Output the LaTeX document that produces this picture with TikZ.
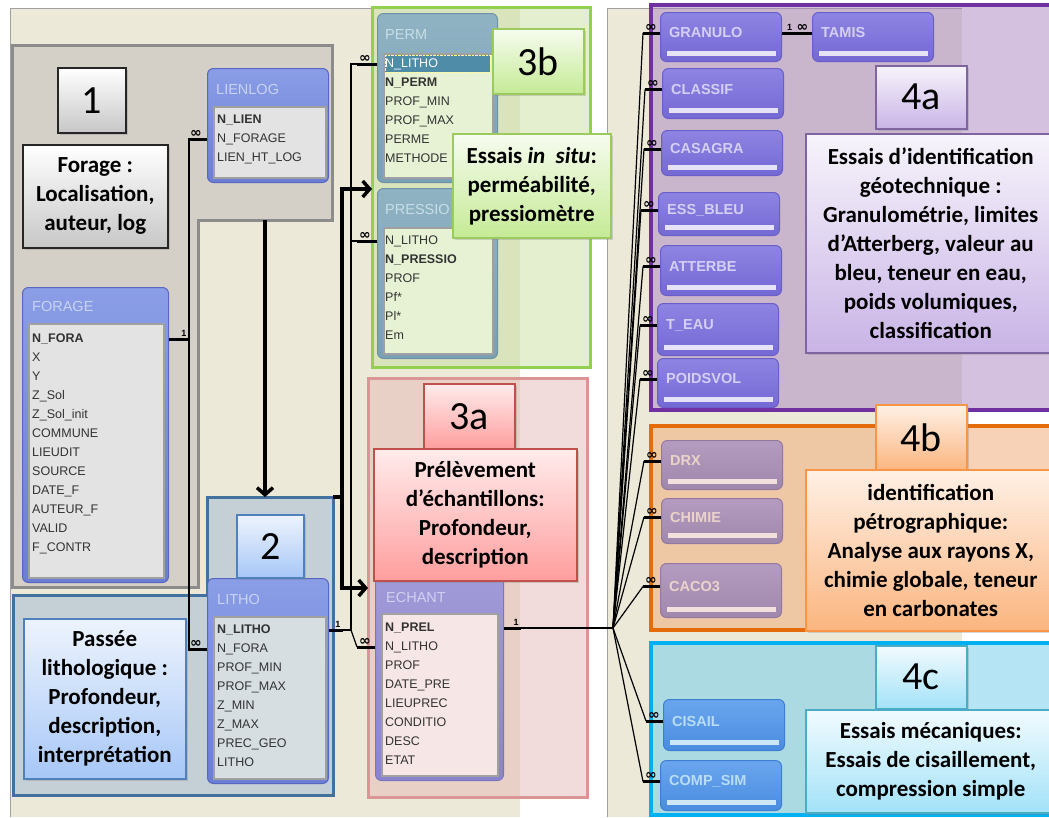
\documentclass[tikz,border=0pt]{standalone}
\usepackage{fontspec}
\setmainfont{Carlito}
\newfontfamily\accessfont{Liberation Sans}
\newfontfamily\symfont{DejaVu Sans}
\usetikzlibrary{arrows.meta, positioning, calc, shadows}

\definecolor{winbeige}{HTML}{ECE9D8}
\definecolor{winline}{HTML}{A0A0A0}
\definecolor{grpgray}{HTML}{D4D0C8}
\definecolor{grpgrayline}{HTML}{8C8C8C}
\definecolor{grpblue}{HTML}{C4D0D6}
\definecolor{grpblueline}{HTML}{41719C}
\definecolor{grpgreen}{HTML}{C9E1A1}
\definecolor{grpgreenline}{HTML}{92D050}
\definecolor{grppink}{HTML}{E6B9B8}
\definecolor{grppinkline}{HTML}{D99694}
\definecolor{grppurple}{HTML}{A985C1}
\definecolor{grppurpleline}{HTML}{7030A0}
\definecolor{grporange}{HTML}{F1A771}
\definecolor{grporangeline}{HTML}{E46C0A}
\definecolor{grpcyan}{HTML}{6DCDED}
\definecolor{grpcyanline}{HTML}{00B0F0}
\definecolor{fldtext}{HTML}{333333}
\definecolor{tealsel}{HTML}{4E8CA8}
% table frames
\definecolor{bluetop}{HTML}{8A9DE6}\definecolor{bluebot}{HTML}{6A7ED4}\definecolor{blueline}{HTML}{5868C0}\definecolor{bluehead}{HTML}{C9D3F3}
\definecolor{tealtop}{HTML}{8FB3C3}\definecolor{tealbot}{HTML}{7AA0B3}\definecolor{tealline}{HTML}{6F93A6}\definecolor{tealhead}{HTML}{C8DEE6}
\definecolor{mauvetop}{HTML}{A09AD8}\definecolor{mauvebot}{HTML}{8A84CC}\definecolor{mauveline}{HTML}{7C74C0}\definecolor{mauvehead}{HTML}{D4D0F0}
\definecolor{violettop}{HTML}{8E84E2}\definecolor{violetbot}{HTML}{7468D4}\definecolor{violetline}{HTML}{6A5EC8}\definecolor{violethead}{HTML}{D5CFF4}
\definecolor{rosetop}{HTML}{B49CC0}\definecolor{rosebot}{HTML}{A088AC}\definecolor{roseline}{HTML}{94789E}\definecolor{rosehead}{HTML}{EBD3CC}
\definecolor{azuretop}{HTML}{6AA6EE}\definecolor{azurebot}{HTML}{4A8CE0}\definecolor{azureline}{HTML}{3E7ED0}\definecolor{azurehead}{HTML}{B8DDF5}
% label boxes
\definecolor{annblue}{HTML}{4F81BD}\definecolor{annbluebot}{HTML}{A7C7F7}
\definecolor{anngreen}{HTML}{9BCB5F}\definecolor{anngreenbot}{HTML}{C5EA95}
\definecolor{annred}{HTML}{C0504D}\definecolor{annredbot}{HTML}{FF9E9E}
\definecolor{annpurple}{HTML}{8064A2}\definecolor{annpurplebot}{HTML}{C9B4E6}
\definecolor{annorange}{HTML}{F79646}\definecolor{annorangebot}{HTML}{FBB57F}
\definecolor{anncyan}{HTML}{4BACC6}\definecolor{anncyanbot}{HTML}{A3E2F8}

\begin{document}
\begin{tikzpicture}[x=1pt, y=-1pt,
  grp/.style={line width=3pt, fill opacity=0.5},
  tbl/.style={anchor=north west, rounded corners=6pt, inner sep=0pt, line width=1pt},
  minitbl/.style={tbl, minimum width=121pt,
    path picture={\fill[#1, sharp corners]
      ([xshift=6pt, yshift=6pt]path picture bounding box.south west) rectangle
      ([xshift=-6pt, yshift=11pt]path picture bounding box.south east);}},
  tblhead/.style={anchor=west, inner sep=0pt,
    font=\accessfont\fontsize{14.5}{14.5}\selectfont},
  minihead/.style={tblhead, font=\accessfont\bfseries\fontsize{14.5}{14.5}\selectfont},
  tbllist/.style={anchor=north west, inner sep=0pt, draw=winline, line width=1.5pt},
  fld/.style={anchor=base west, inner sep=0pt, text height=9pt, text depth=3pt,
    text=fldtext, font=\accessfont\fontsize{12.5}{12.5}\selectfont},
  bluetbl/.style={draw=blueline, top color=bluetop, bottom color=bluebot},
  tealtbl/.style={draw=tealline, top color=tealtop, bottom color=tealbot},
  mauvetbl/.style={draw=mauveline, top color=mauvetop, bottom color=mauvebot},
  violettbl/.style={draw=violetline, top color=violettop, bottom color=violetbot},
  rosetbl/.style={draw=roseline, top color=rosetop, bottom color=rosebot},
  azuretbl/.style={draw=azureline, top color=azuretop, bottom color=azurebot},
  numbox/.style={anchor=north west, inner sep=0pt, line width=1.5pt,
    font=\fontsize{40}{40}\selectfont,
    drop shadow={opacity=0.3, shadow xshift=2pt, shadow yshift=-2pt}},
  annbox/.style={anchor=north west, inner sep=2pt, line width=1.5pt, align=center,
    font=\bfseries\fontsize{23}{29}\selectfont,
    drop shadow={opacity=0.3, shadow xshift=2pt, shadow yshift=-2pt}},
  grayann/.style={draw=black!85, top color=white, bottom color=black!22},
  blueann/.style={draw=annblue, top color=annbluebot!20!white, bottom color=annbluebot},
  greenann/.style={draw=anngreen, top color=anngreenbot!15!white, bottom color=anngreenbot},
  redann/.style={draw=annred, top color=annredbot!20!white, bottom color=annredbot},
  purpleann/.style={draw=annpurple, top color=annpurplebot!15!white, bottom color=annpurplebot},
  orangeann/.style={draw=annorange, top color=annorangebot!20!white, bottom color=annorangebot},
  cyanann/.style={draw=anncyan, top color=anncyanbot!15!white, bottom color=anncyanbot},
  rel/.style={line width=1.2pt},
  stub/.style={line width=3pt},
  card/.style={inner sep=0.5pt, font=\symfont\bfseries\fontsize{14}{14}\selectfont},
  one/.style={inner sep=1pt, font=\accessfont\bfseries\fontsize{9}{9}\selectfont},
  bigarr/.style={line width=3.5pt, -{Straight Barb[length=7pt, width=16pt]}}
]
  \useasboundingbox (0,0) rectangle (1049,817);
  \fill[white] (0,0) rectangle (1049,817);

  % Access windows
  \fill[winbeige] (10,8) rectangle (520,817);
  \draw[winline] (10,817) -- (10,8) -- (520,8);
  \fill[winbeige] (607,8) rectangle (962,817);
  \draw[winline] (607,817) -- (607,8) -- (962,8);

  % Groups 1 and 2
  \draw[line width=3pt, draw=grpgrayline, fill=grpgray]
    (12,45) -- (332,45) -- (332,220) -- (198,220) -- (198,587) -- (12,587) -- cycle;
  \draw[line width=3pt, draw=grpblueline, fill=grpblue]
    (207,497) -- (333,497) -- (333,795) -- (13,795) -- (13,595) -- (207,595) -- cycle;

  % Groups 3 and 4
  \draw[grp, draw=grpgreenline, fill=grpgreen] (372,7) rectangle (590,367);
  \draw[grp, draw=grppinkline, fill=grppink] (368,378) rectangle (587,797);
  \draw[grp, line width=4pt, draw=grppurpleline, fill=grppurple] (651,5) rectangle (1062,410);
  \draw[grp, line width=4pt, draw=grporangeline, fill=grporange] (651,426) rectangle (1062,630);
  \draw[grp, line width=4pt, draw=grpcyanline, fill=grpcyan] (651,643) rectangle (1062,815);

  % Table LIENLOG
  \node[tbl, bluetbl, minimum width=121pt, minimum height=114pt] (lienlog) at (207,68) {};
  \node[tblhead, text=bluehead] (lienlog-t) at (216,90) {LIENLOG};
  \node[tbllist, fill=black!11, minimum width=112pt, minimum height=71pt] (lienlog-l) at (213,106) {};
  \foreach \f [count=\i] in {\textbf{N\_LIEN}, N\_FORAGE, LIEN\_HT\_LOG}
    \node[fld] (lienlog-f\i) at (217,{104+19*\i}) {\f};

  % Table FORAGE
  \node[tbl, bluetbl, minimum width=146pt, minimum height=295pt] (forage) at (22,287) {};
  \node[tblhead, text=bluehead] (forage-t) at (32,307) {FORAGE};
  \node[tbllist, fill=black!11, minimum width=135pt, minimum height=254pt] (forage-l) at (28,323) {};
  \foreach \f [count=\i] in {\textbf{N\_FORA}, X, Y, Z\_Sol, Z\_Sol\_init, COMMUNE,
      LIEUDIT, SOURCE, DATE\_F, AUTEUR\_F, VALID, F\_CONTR}
    \node[fld] (forage-f\i) at (32,{323+19*\i}) {\f};

  % Table LITHO
  \node[tbl, bluetbl, minimum width=121pt, minimum height=205pt] (litho) at (207,578) {};
  \node[tblhead, text=bluehead] (litho-t) at (217,599) {LITHO};
  \node[tbllist, fill=grpblue!70!white, minimum width=112pt, minimum height=162pt] (litho-l) at (213,616) {};
  \foreach \f [count=\i] in {\textbf{N\_LITHO}, N\_FORA, PROF\_MIN, PROF\_MAX, Z\_MIN,
      Z\_MAX, PREC\_GEO, LITHO}
    \node[fld] (litho-f\i) at (217,{614+19*\i}) {\f};

  % Table PERM
  \node[tbl, tealtbl, minimum width=120pt, minimum height=169pt] (perm) at (377,13) {};
  \node[tblhead, text=tealhead] (perm-t) at (385,35) {PERM};
  \node[tbllist, fill=grpgreen!45!white, minimum width=109pt, minimum height=124pt] (perm-l) at (383,53) {};
  \filldraw[fill=tealsel, draw=white!60!yellow, densely dotted] (385,55) rectangle (490,72);
  \foreach \f [count=\i] in {\textcolor{white}{N\_LITHO}, \textbf{N\_PERM}, PROF\_MIN,
      PROF\_MAX, PERME, METHODE}
    \node[fld] (perm-f\i) at (385,{48+19*\i}) {\f};

  % Table PRESSIO
  \node[tbl, tealtbl, minimum width=120pt, minimum height=170pt] (pressio) at (377,188) {};
  \node[tblhead, text=tealhead] (pressio-t) at (385,210) {PRESSIO};
  \node[tbllist, fill=grpgreen!45!white, minimum width=109pt, minimum height=126pt] (pressio-l) at (383,227) {};
  \foreach \f [count=\i] in {N\_LITHO, \textbf{N\_PRESSIO}, PROF, Pf*, Pl*, Em}
    \node[fld] (pressio-f\i) at (385,{225+19*\i}) {\f};

  % Table ECHANT
  \node[tbl, mauvetbl, minimum width=128pt, minimum height=205pt] (echant) at (375,575) {};
  \node[tblhead, text=mauvehead] (echant-t) at (386,597) {ECHANT};
  \node[tbllist, fill=grppink!35!white, minimum width=116pt, minimum height=162pt] (echant-l) at (381,613) {};
  \foreach \f [count=\i] in {\textbf{N\_PREL}, N\_LITHO, PROF, DATE\_PRE, LIEUPREC,
      CONDITIO, DESC, ETAT}
    \node[fld] (echant-f\i) at (385,{612+19*\i}) {\f};

  % Collapsed tables, group 4a
  \node[minitbl=violethead!60!white, violettbl, minimum height=49pt] (granulo) at (660,12) {};
  \node[minitbl=violethead!60!white, violettbl, minimum height=49pt] (tamis) at (812,12) {};
  \node[minitbl=violethead!60!white, violettbl, minimum height=50pt] (classif) at (662,68) {};
  \node[minitbl=violethead!60!white, violettbl, minimum height=45pt] (casagra) at (661,130) {};
  \node[minitbl=violethead!60!white, violettbl, minimum height=43pt] (essbleu) at (658,192) {};
  \node[minitbl=violethead!60!white, violettbl, minimum height=50pt] (atterbe) at (660,245) {};
  \node[minitbl=violethead!60!white, violettbl, minimum height=52pt] (teau) at (657,303) {};
  \node[minitbl=violethead!60!white, violettbl, minimum height=49pt] (poidsvol) at (657,358) {};
  % group 4b
  \node[minitbl=rosehead!70!white, rosetbl, minimum height=49pt] (drx) at (661,440) {};
  \node[minitbl=rosehead!70!white, rosetbl, minimum height=45pt] (chimie) at (661,498) {};
  \node[minitbl=rosehead!70!white, rosetbl, minimum height=54pt] (caco) at (660,563) {};
  % group 4c
  \node[minitbl=azurehead!70!white, azuretbl, minimum height=51pt] (cisail) at (663,699) {};
  \node[minitbl=azurehead!70!white, azuretbl, minimum height=50pt] (compsim) at (660,760) {};

  \node[minihead, text=violethead] (granulo-t) at ([xshift=9pt, yshift=4pt]granulo.west) {GRANULO};
  \node[minihead, text=violethead] (tamis-t) at ([xshift=9pt, yshift=4pt]tamis.west) {TAMIS};
  \node[minihead, text=violethead] (classif-t) at ([xshift=9pt, yshift=4pt]classif.west) {CLASSIF};
  \node[minihead, text=violethead] (casagra-t) at ([xshift=9pt, yshift=4pt]casagra.west) {CASAGRA};
  \node[minihead, text=violethead] (essbleu-t) at ([xshift=9pt, yshift=4pt]essbleu.west) {ESS\_BLEU};
  \node[minihead, text=violethead] (atterbe-t) at ([xshift=9pt, yshift=4pt]atterbe.west) {ATTERBE};
  \node[minihead, text=violethead] (teau-t) at ([xshift=9pt, yshift=4pt]teau.west) {T\_EAU};
  \node[minihead, text=violethead] (poidsvol-t) at ([xshift=9pt, yshift=4pt]poidsvol.west) {POIDSVOL};
  \node[minihead, text=rosehead] (drx-t) at ([xshift=9pt, yshift=4pt]drx.west) {DRX};
  \node[minihead, text=rosehead] (chimie-t) at ([xshift=9pt, yshift=4pt]chimie.west) {CHIMIE};
  \node[minihead, text=rosehead] (caco-t) at ([xshift=9pt, yshift=4pt]caco.west) {CACO3};
  \node[minihead, text=azurehead] (cisail-t) at ([xshift=9pt, yshift=4pt]cisail.west) {CISAIL};
  \node[minihead, text=azurehead] (compsim-t) at ([xshift=9pt, yshift=4pt]compsim.west) {COMP\_SIM};

  % Relations FORAGE -> LIENLOG, LITHO
  \draw[stub] (forage.east |- forage-f1) -- ++(20,0) coordinate (forage-c)
    node[one, anchor=south east] {1};
  \draw[stub] (lienlog.west |- lienlog-f2) -- ++(-19,0) coordinate (lienlog-c)
    node[card, anchor=south west] {∞};
  \draw[stub] (litho.west |- litho-f2) -- ++(-19,0) coordinate (litho-c)
    node[card, anchor=south west] {∞};
  \draw[rel] (forage-c) |- (lienlog-c);
  \draw[rel] (forage-c) |- (litho-c);

  % Relations LITHO -> PERM, PRESSIO, ECHANT
  \draw[stub] (litho.east |- litho-f1) -- ++(14,0) coordinate (litho-k)
    node[one, anchor=south east] {1};
  \draw[stub] (perm.west |- perm-f1) -- ++(-20,0) coordinate (perm-c)
    node[card, anchor=south west] {∞};
  \draw[stub] (pressio.west |- pressio-f1) -- ++(-20,0) coordinate (pressio-c)
    node[card, anchor=south west] {∞};
  \draw[stub] (echant.west |- echant-f2) -- ++(-18,0) coordinate (echant-c)
    node[card, anchor=south west] {∞};
  \draw[rel] (litho-k) -- ++(8,0) |- (perm-c);
  \draw[rel] (litho-k) -- ++(8,0) |- (pressio-c);
  \draw[rel] (litho-k) -- ++(8,0) -- (echant-c);

  % Relations ECHANT -> essais
  \draw[stub] (echant.east |- echant-f1) -- ++(17,0) coordinate (echant-k)
    node[one, anchor=south east] {1};
  \path (echant-k) ++(92,0) coordinate (fan);
  \draw[rel] (echant-k) -- (fan);
  \foreach \t in {granulo, classif, casagra, essbleu, atterbe, teau, poidsvol,
      drx, chimie, caco, cisail, compsim} {
    \draw[stub] (\t.west |- \t-t) -- ++(-17,0) coordinate (\t-c)
      node[card, anchor=south west] {∞};
    \draw[rel] (fan) -- (\t-c);
  }
  \draw[stub] (granulo.east |- granulo-t) -- (tamis.west |- tamis-t)
    node[pos=0.25, one, anchor=south] {1}
    node[pos=0.68, card, anchor=south] {∞};

  % Big arrows between groups
  \coordinate (g1-s) at (265,220);
  \coordinate (g2-n) at (265,497);
  \coordinate (g2-ne) at (333,497);
  \coordinate (g3b-w) at (372,189);
  \coordinate (g3a-w) at (368,588);
  \draw[bigarr] (g1-s) -- (g2-n);
  \draw[bigarr] (g2-ne) -- ++(9,0) |- (g3b-w);
  \draw[bigarr] (g2-ne) -- ++(9,0) |- (g3a-w);

  % Labels
  \node[numbox, grayann, minimum width=68pt, minimum height=65pt] (num1) at (57,67) {1};
  \node[annbox, grayann, minimum width=145pt, minimum height=103pt] (ann1) at (22,144)
    {Forage :\\Localisation,\\auteur, log};
  \node[numbox, blueann, minimum width=67pt, minimum height=63pt] (num2) at (236,514) {2};
  \node[annbox, blueann, minimum width=162pt, minimum height=160pt] (ann2) at (23,618)
    {Passée\\lithologique :\\Profondeur,\\description,\\interprétation};
  \node[numbox, greenann, minimum width=91pt, minimum height=65pt] (num3b) at (492,28) {3b};
  \node[annbox, greenann, minimum width=158pt, minimum height=104pt] (ann3b) at (452,133)
    {Essais \textit{in\ \ situ}:\\perméabilité,\\pressiomètre};
  \node[numbox, redann, minimum width=91pt, minimum height=65pt] (num3a) at (423,383) {3a};
  \node[annbox, redann, minimum width=203pt, minimum height=132pt] (ann3a) at (373,448)
    {Prélèvement\\d’échantillons:\\Profondeur,\\description};
  \node[numbox, purpleann, minimum width=91pt, minimum height=63pt] (num4a) at (875,65) {4a};
  \node[annbox, purpleann, minimum width=250pt, minimum height=219pt] (ann4a) at (805,133)
    {Essais d’identification\\géotechnique :\\Granulométrie, limites\\d’Atterberg, valeur au\\bleu, teneur en eau,\\poids volumiques,\\classification};
  \node[numbox, orangeann, minimum width=91pt, minimum height=66pt] (num4b) at (875,404) {4b};
  \node[annbox, orangeann, minimum width=250pt, minimum height=161pt] (ann4b) at (805,469)
    {identification\\pétrographique:\\Analyse aux rayons X,\\chimie globale, teneur\\en carbonates};
  \node[numbox, cyanann, minimum width=91pt, minimum height=63pt] (num4c) at (875,645) {4c};
  \node[annbox, cyanann, minimum width=250pt, minimum height=103pt] (ann4c) at (805,709)
    {Essais mécaniques:\\Essais de cisaillement,\\compression simple};
\end{tikzpicture}
\end{document}
